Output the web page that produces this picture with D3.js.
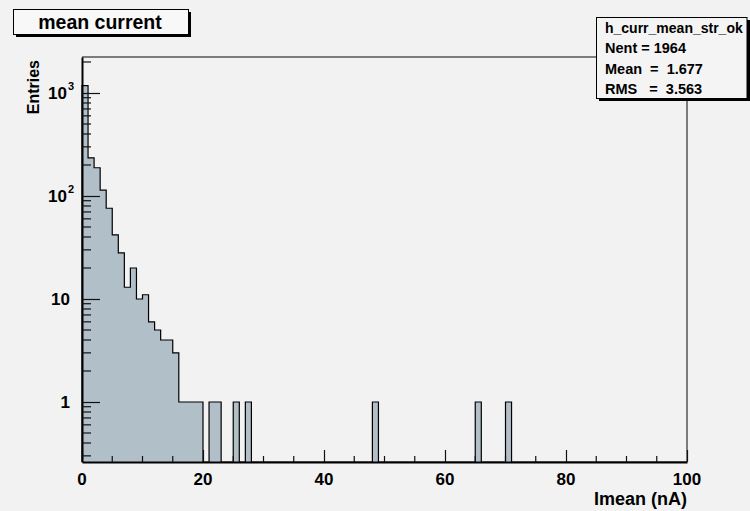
<!DOCTYPE html>
<html>
<head>
<meta charset="utf-8">
<script src="https://cdn.jsdelivr.net/npm/d3@7"></script>
<style>
  body { margin: 0; background: #f2f2f2; }
  svg { display: block; font-family: "Liberation Sans", Arial, sans-serif; font-weight: bold; }
</style>
</head>
<body>
<svg id="chart" width="750" height="511"></svg>
<script>
// histogram: 100 bins of width 1 over [0,100], only filled bins listed
var binLow = [0, 1, 2, 3, 4, 5, 6, 7, 8, 9, 10, 11, 12, 13, 14, 15, 16, 17, 18, 19, 21, 22, 25, 27, 48, 65, 70];
var binCount = [1180, 235, 188, 114, 76, 42, 28, 13, 20, 10, 11, 6, 5, 4, 4, 3, 1, 1, 1, 1, 1, 1, 1, 1, 1, 1, 1];
var xTicks = [0, 20, 40, 60, 80, 100];
var yDecades = [1, 10, 100, 1000];
var yLabels = ["1", "10", "10|2", "10|3"];
var statsLines = ["h_curr_mean_str_ok", "Nent = 1964", "Mean  =  1.677", "RMS   =  3.563"];
var titleText = "mean current";
var xTitle = "Imean (nA)";
var yTitle = "Entries";

(function() {
  var svg = d3.select("#chart");
  var frame = { left: 82, right: 687, top: 57, bottom: 462 };
  var fillColor = "#b1bfc9";

  var x = d3.scaleLinear().domain([0, 100]).range([frame.left, frame.right]);
  var y = d3.scaleLog().domain([0.2615, 2236]).range([frame.bottom, frame.top]);

  // full bin list (empty bins sit at the bottom of the log axis)
  var nBins = 100;
  var bins = [];
  for (var i = 0; i < nBins; i++) bins.push({ lo: i, hi: i + 1, n: 0 });
  binLow.forEach(function(b, k) { bins[b].n = binCount[k]; });

  function yv(n) { return n > 0 ? y(n) : frame.bottom; }

  var pts = [[x(0), frame.bottom]];
  bins.forEach(function(b) {
    pts.push([x(b.lo), yv(b.n)]);
    pts.push([x(b.hi), yv(b.n)]);
  });
  pts.push([x(100), frame.bottom]);
  var line = d3.line();

  svg.append("path")
    .attr("d", line(pts) + "Z")
    .style("fill", fillColor)
    .style("stroke", "none");
  svg.append("path")
    .attr("d", line(pts))
    .style("fill", "none")
    .style("stroke", "#000")
    .style("stroke-width", 1.2);

  // frame top / right
  svg.append("path")
    .attr("d", "M" + frame.left + "," + frame.top + "H" + frame.right + "V" + frame.bottom)
    .style("fill", "none").style("stroke", "#555").style("stroke-width", 1.5);

  // x axis
  var xMinor = d3.range(0, 101, 5).filter(function(v) { return v % 20 !== 0; });
  var gx = svg.append("g").attr("transform", "translate(0," + frame.bottom + ")");
  gx.call(d3.axisBottom(x).tickValues(xTicks).tickSize(-12).tickSizeOuter(0).tickFormat(""));
  gx.selectAll(".minor").data(xMinor).enter().append("line").attr("class", "minor")
    .attr("x1", x).attr("x2", x).attr("y1", 0).attr("y2", -6);
  gx.select(".domain").style("stroke", "#000").style("stroke-width", 2);
  gx.selectAll("line").style("stroke", "#111").style("stroke-width", 1.2);

  svg.append("g").selectAll("text").data(xTicks).enter().append("text")
    .attr("x", function(d) { return x(d); })
    .attr("y", 485)
    .attr("text-anchor", "middle")
    .style("font-size", "17px")
    .text(function(d) { return d; });

  svg.append("text")
    .attr("x", frame.right)
    .attr("y", 505)
    .attr("text-anchor", "end")
    .style("font-size", "18px")
    .text(xTitle);

  // y axis
  var yMinor = [];
  [0.1, 1, 10, 100, 1000].forEach(function(dec) {
    for (var m = 2; m <= 9; m++) {
      var v = dec * m;
      if (v >= y.domain()[0] && v <= y.domain()[1]) yMinor.push(v);
    }
  });
  var gy = svg.append("g").attr("transform", "translate(" + frame.left + ",0)");
  gy.call(d3.axisLeft(y).tickValues(yDecades).tickSize(-18).tickSizeOuter(0).tickFormat(""));
  gy.selectAll(".minor").data(yMinor).enter().append("line").attr("class", "minor")
    .attr("y1", y).attr("y2", y).attr("x1", 0).attr("x2", 9);
  gy.select(".domain").style("stroke", "#000").style("stroke-width", 2);
  gy.selectAll("line").style("stroke", "#111").style("stroke-width", 1.2);

  var yl = svg.append("g").selectAll("text").data(yDecades).enter().append("text")
    .attr("y", function(d) { return y(d) + 6; })
    .style("font-size", "17px");
  yl.each(function(d, i) {
    var parts = yLabels[i].split("|");
    var t = d3.select(this);
    if (parts.length === 1) {
      t.attr("x", 70).attr("text-anchor", "end").text(parts[0]);
    } else {
      t.attr("x", 48).attr("text-anchor", "start");
      t.append("tspan").text(parts[0]);
      t.append("tspan").attr("dy", -9).attr("dx", 1).style("font-size", "11px").text(parts[1]);
    }
  });

  svg.append("text")
    .attr("transform", "translate(39,60) rotate(-90)")
    .attr("text-anchor", "end")
    .style("font-size", "16px")
    .text(yTitle);

  // title box
  svg.append("rect").attr("x", 16).attr("y", 12).attr("width", 175).attr("height", 25).style("fill", "#000");
  svg.append("rect").attr("x", 13.5).attr("y", 9.5).attr("width", 175).attr("height", 25)
    .style("fill", "#f8f8f8").style("stroke", "#000").style("stroke-width", 1);
  svg.append("text")
    .attr("x", 100).attr("y", 29)
    .attr("text-anchor", "middle")
    .style("font-size", "19.5px")
    .text(titleText);

  // stats box
  svg.append("rect").attr("x", 599).attr("y", 20).attr("width", 160).attr("height", 81).style("fill", "#000");
  svg.append("rect").attr("x", 596.5).attr("y", 17.5).attr("width", 150.5).attr("height", 81)
    .style("fill", "#f4f4f4").style("stroke", "#000").style("stroke-width", 1);
  svg.append("g")
    .selectAll("text").data(statsLines).enter().append("text")
    .attr("x", 605)
    .attr("y", function(d, i) { return 33 + i * 20.3; })
    .style("font-size", function(d, i) { return i === 0 ? "14px" : "14.5px"; })
    .style("white-space", "pre")
    .text(function(d) { return d; });
})();
</script>
</body>
</html>
